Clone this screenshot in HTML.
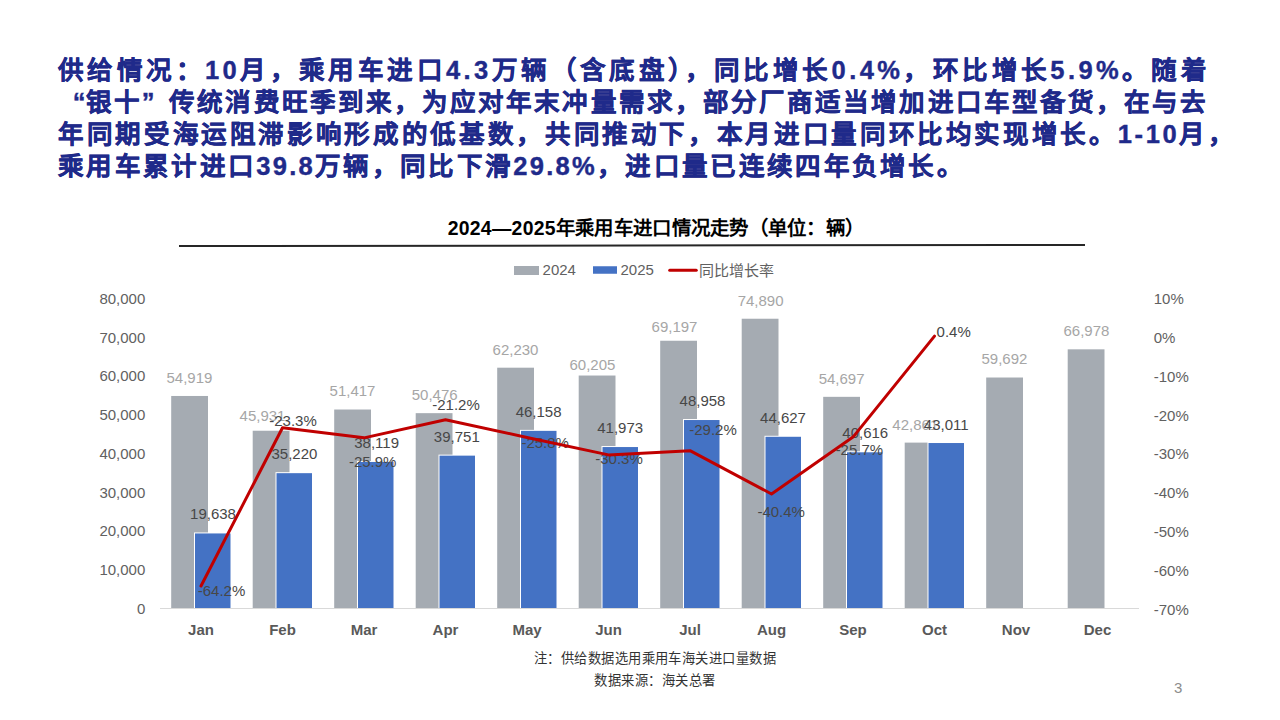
<!DOCTYPE html>
<html lang="zh-CN"><head><meta charset="utf-8">
<style>
html,body{margin:0;padding:0;background:#fff;}
body{width:1280px;height:720px;position:relative;overflow:hidden;font-family:"Liberation Sans",sans-serif;}
.p{position:absolute;left:58px;white-space:nowrap;font-size:26px;font-weight:bold;color:#1F2A8A;-webkit-text-stroke:0.4px #1F2A8A;line-height:30px;}
.ct{position:absolute;left:16px;width:1280px;top:215px;text-align:center;font-size:19.4px;letter-spacing:0.28px;font-weight:bold;color:#000;line-height:26px;}
svg{position:absolute;left:0;top:0;}
svg text{font-family:"Liberation Sans",sans-serif;}
.lg{font-size:15px;fill:#616161;}
.ax{font-size:15px;fill:#616161;}
.mx{font-size:15px;font-weight:bold;fill:#595959;}
.l24{font-size:15px;fill:#A6A6A6;}
.l25{font-size:15px;fill:#474747;}
.fn{position:absolute;left:0;width:1310px;text-align:center;font-size:13.3px;letter-spacing:0.45px;color:#333;line-height:16px;}
.pg{position:absolute;left:1174px;top:679px;font-size:15px;color:#8C8C8C;}
</style></head><body>
<div class="p" id="p0" style="top:54.9px;letter-spacing:3.405px;font-size:25.5px">供给情况：10月，乘用车进口4.3万辆（含底盘），同比增长0.4%，环比增长5.9%。随着</div><div class="p" id="p1" style="top:87.2px;letter-spacing:2.082px;font-size:25.5px"><span style="display:inline-block;width:27.582px;text-align:right;letter-spacing:0">“</span>银十<span style="display:inline-block;width:27.582px;text-align:left;letter-spacing:0">”</span>传统消费旺季到来，为应对年末冲量需求，部分厂商适当增加进口车型备货，在与去</div><div class="p" id="p2" style="top:119.4px;letter-spacing:2.64px;font-size:25.5px">年同期受海运阻滞影响形成的低基数，共同推动下，本月进口量同环比均实现增长。1-10月，</div><div class="p" id="p3" style="top:151.2px;letter-spacing:2.309px;font-size:25.5px">乘用车累计进口39.8万辆，同比下滑29.8%，进口量已连续四年负增长。</div>
<div class="ct">2024—2025年乘用车进口情况走势（单位：辆）</div>
<svg width="1280" height="720" viewBox="0 0 1280 720">
<line x1="179" y1="246" x2="1085" y2="245" stroke="#262626" stroke-width="2"/>
<rect x="514" y="266" width="25" height="9" fill="#A5ABB2"/>
<text x="542.6" y="274.9" class="lg">2024</text>
<rect x="593" y="266.25" width="24" height="7.5" fill="#4472C4"/>
<text x="620.5" y="274.9" class="lg">2025</text>
<line x1="669.7" y1="270.3" x2="696.25" y2="270.3" stroke="#C00000" stroke-width="3" stroke-linecap="round"/>
<text x="699.4" y="275.5" class="lg">同比增长率</text>
<line x1="160" y1="608.5" x2="1139" y2="608.5" stroke="#D9D9D9" stroke-width="1"/>
<text x="145.3" y="303.75" class="ax" text-anchor="end">80,000</text>
<text x="1153.75" y="304.10" class="ax">10%</text>
<text x="145.3" y="342.51" class="ax" text-anchor="end">70,000</text>
<text x="1153.75" y="342.91" class="ax">0%</text>
<text x="145.3" y="381.27" class="ax" text-anchor="end">60,000</text>
<text x="1153.75" y="381.72" class="ax">-10%</text>
<text x="145.3" y="420.03" class="ax" text-anchor="end">50,000</text>
<text x="1153.75" y="420.53" class="ax">-20%</text>
<text x="145.3" y="458.79" class="ax" text-anchor="end">40,000</text>
<text x="1153.75" y="459.34" class="ax">-30%</text>
<text x="145.3" y="497.55" class="ax" text-anchor="end">30,000</text>
<text x="1153.75" y="498.15" class="ax">-40%</text>
<text x="145.3" y="536.31" class="ax" text-anchor="end">20,000</text>
<text x="1153.75" y="536.96" class="ax">-50%</text>
<text x="145.3" y="575.07" class="ax" text-anchor="end">10,000</text>
<text x="1153.75" y="575.77" class="ax">-60%</text>
<text x="145.3" y="613.83" class="ax" text-anchor="end">0</text>
<text x="1153.75" y="614.58" class="ax">-70%</text>
<text x="201.00" y="634.8" class="mx" text-anchor="middle">Jan</text>
<text x="282.50" y="634.8" class="mx" text-anchor="middle">Feb</text>
<text x="364.00" y="634.8" class="mx" text-anchor="middle">Mar</text>
<text x="445.50" y="634.8" class="mx" text-anchor="middle">Apr</text>
<text x="527.00" y="634.8" class="mx" text-anchor="middle">May</text>
<text x="608.50" y="634.8" class="mx" text-anchor="middle">Jun</text>
<text x="690.00" y="634.8" class="mx" text-anchor="middle">Jul</text>
<text x="771.50" y="634.8" class="mx" text-anchor="middle">Aug</text>
<text x="853.00" y="634.8" class="mx" text-anchor="middle">Sep</text>
<text x="934.50" y="634.8" class="mx" text-anchor="middle">Oct</text>
<text x="1016.00" y="634.8" class="mx" text-anchor="middle">Nov</text>
<text x="1097.50" y="634.8" class="mx" text-anchor="middle">Dec</text>
<rect x="171.20" y="395.97" width="36.8" height="212.03" fill="#A5ABB2"/>
<rect x="252.70" y="430.74" width="36.8" height="177.26" fill="#A5ABB2"/>
<rect x="334.20" y="409.52" width="36.8" height="198.48" fill="#A5ABB2"/>
<rect x="415.70" y="413.16" width="36.8" height="194.84" fill="#A5ABB2"/>
<rect x="497.20" y="367.69" width="36.8" height="240.31" fill="#A5ABB2"/>
<rect x="578.70" y="375.53" width="36.8" height="232.47" fill="#A5ABB2"/>
<rect x="660.20" y="340.75" width="36.8" height="267.25" fill="#A5ABB2"/>
<rect x="741.70" y="318.73" width="36.8" height="289.27" fill="#A5ABB2"/>
<rect x="823.20" y="396.83" width="36.8" height="211.17" fill="#A5ABB2"/>
<rect x="904.70" y="442.61" width="36.8" height="165.39" fill="#A5ABB2"/>
<rect x="986.20" y="377.51" width="36.8" height="230.49" fill="#A5ABB2"/>
<rect x="1067.70" y="349.33" width="36.8" height="258.67" fill="#A5ABB2"/>
<rect x="194.00" y="532.44" width="36.5" height="75.56" fill="#fff"/>
<rect x="195.00" y="533.44" width="35.5" height="74.56" fill="#4472C4"/>
<rect x="275.50" y="472.17" width="36.5" height="135.83" fill="#fff"/>
<rect x="276.50" y="473.17" width="35.5" height="134.83" fill="#4472C4"/>
<rect x="357.00" y="460.96" width="36.5" height="147.04" fill="#fff"/>
<rect x="358.00" y="461.96" width="35.5" height="146.04" fill="#4472C4"/>
<rect x="438.50" y="454.64" width="36.5" height="153.36" fill="#fff"/>
<rect x="439.50" y="455.64" width="35.5" height="152.36" fill="#4472C4"/>
<rect x="520.00" y="429.86" width="36.5" height="178.14" fill="#fff"/>
<rect x="521.00" y="430.86" width="35.5" height="177.14" fill="#4472C4"/>
<rect x="601.50" y="446.05" width="36.5" height="161.95" fill="#fff"/>
<rect x="602.50" y="447.05" width="35.5" height="160.95" fill="#4472C4"/>
<rect x="683.00" y="419.03" width="36.5" height="188.97" fill="#fff"/>
<rect x="684.00" y="420.03" width="35.5" height="187.97" fill="#4472C4"/>
<rect x="764.50" y="435.78" width="36.5" height="172.22" fill="#fff"/>
<rect x="765.50" y="436.78" width="35.5" height="171.22" fill="#4472C4"/>
<rect x="846.00" y="451.30" width="36.5" height="156.70" fill="#fff"/>
<rect x="847.00" y="452.30" width="35.5" height="155.70" fill="#4472C4"/>
<rect x="927.50" y="442.03" width="36.5" height="165.97" fill="#fff"/>
<rect x="928.50" y="443.03" width="35.5" height="164.97" fill="#4472C4"/>
<text x="189.4" y="382.65" class="l24" text-anchor="middle">54,919</text>
<text x="262.5" y="421.25" class="l24" text-anchor="middle">45,931</text>
<text x="352.5" y="395.95" class="l24" text-anchor="middle">51,417</text>
<text x="434.7" y="400.05" class="l24" text-anchor="middle">50,476</text>
<text x="515.5" y="355.05" class="l24" text-anchor="middle">62,230</text>
<text x="592.4" y="370.05" class="l24" text-anchor="middle">60,205</text>
<text x="674.5" y="331.75" class="l24" text-anchor="middle">69,197</text>
<text x="760.6" y="305.85" class="l24" text-anchor="middle">74,890</text>
<text x="841.6" y="384.10" class="l24" text-anchor="middle">54,697</text>
<text x="915.3" y="430.35" class="l24" text-anchor="middle">42,861</text>
<text x="1004.4" y="364.10" class="l24" text-anchor="middle">59,692</text>
<text x="1086.4" y="335.95" class="l24" text-anchor="middle">66,978</text>
<text x="213" y="519.10" class="l25" text-anchor="middle">19,638</text>
<text x="294.4" y="458.75" class="l25" text-anchor="middle">35,220</text>
<text x="376.6" y="447.55" class="l25" text-anchor="middle">38,119</text>
<text x="456.8" y="441.95" class="l25" text-anchor="middle">39,751</text>
<text x="538.6" y="416.60" class="l25" text-anchor="middle">46,158</text>
<text x="620.2" y="432.85" class="l25" text-anchor="middle">41,973</text>
<text x="702.5" y="406.35" class="l25" text-anchor="middle">48,958</text>
<text x="783" y="422.85" class="l25" text-anchor="middle">44,627</text>
<text x="865.25" y="437.85" class="l25" text-anchor="middle">40,616</text>
<text x="946.25" y="429.75" class="l25" text-anchor="middle">43,011</text>
<text x="221.5" y="596.35" class="l25" text-anchor="middle">-64.2%</text>
<text x="293" y="425.65" class="l25" text-anchor="middle">-23.3%</text>
<text x="372.7" y="466.95" class="l25" text-anchor="middle">-25.9%</text>
<text x="456" y="410.35" class="l25" text-anchor="middle">-21.2%</text>
<text x="545.2" y="447.85" class="l25" text-anchor="middle">-25.8%</text>
<text x="619" y="464.10" class="l25" text-anchor="middle">-30.3%</text>
<text x="713" y="435.35" class="l25" text-anchor="middle">-29.2%</text>
<text x="781.2" y="516.55" class="l25" text-anchor="middle">-40.4%</text>
<text x="859.4" y="455.35" class="l25" text-anchor="middle">-25.7%</text>
<text x="953.7" y="337.35" class="l25" text-anchor="middle">0.4%</text>
<polyline points="201.00,586.01 282.50,427.80 364.00,437.86 445.50,419.68 527.00,437.47 608.50,454.88 690.00,450.63 771.50,493.95 853.00,437.09 934.50,336.13" fill="none" stroke="#C00000" stroke-width="3" stroke-linejoin="round" stroke-linecap="round"/>
</svg>
<div class="fn" style="top:650.5px">注：供给数据选用乘用车海关进口量数据</div>
<div class="fn" style="top:672.5px">数据来源：海关总署</div>
<div class="pg">3</div>
</body></html>
